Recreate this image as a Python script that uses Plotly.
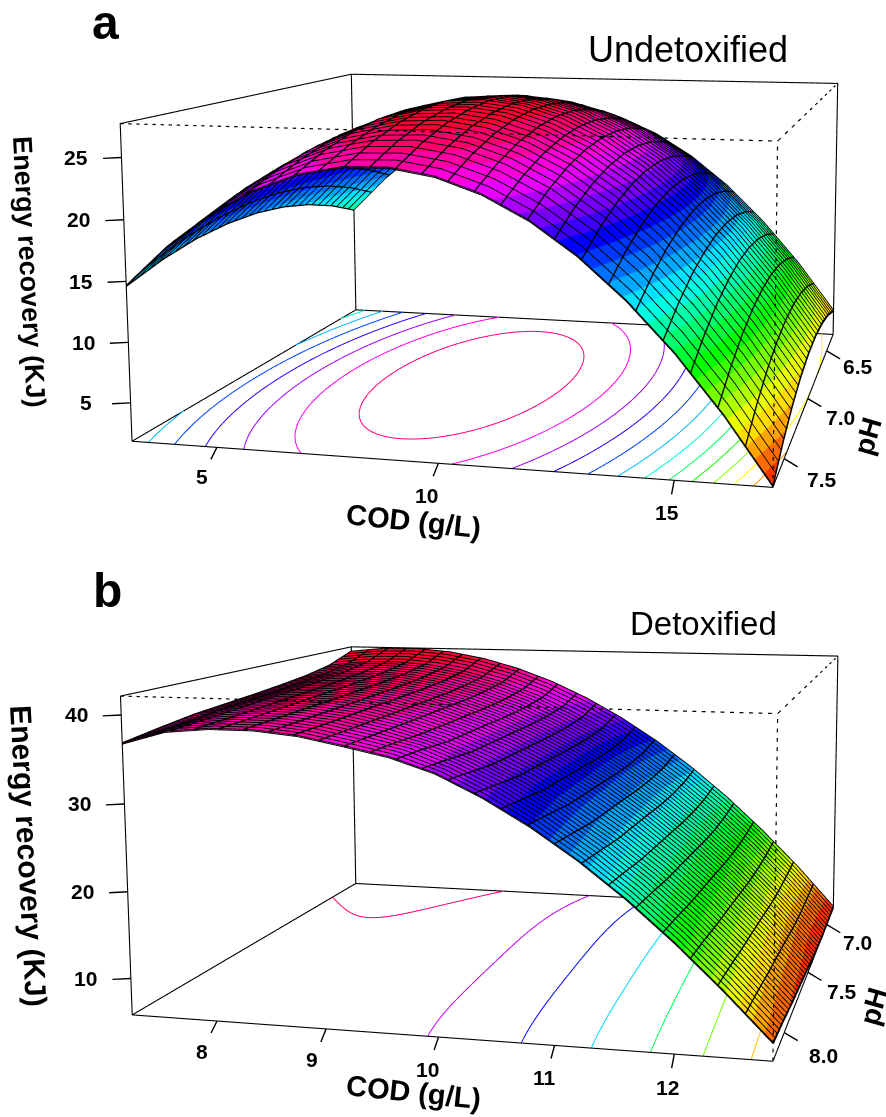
import colorsys
import numpy as np
import plotly.graph_objects as go

# ---------- values ----------
COD_A = [3, 4, 5, 6, 7, 8, 9, 10, 11, 12, 13, 14, 15, 16, 17]
PH_A = [6.3, 6.475, 6.65, 6.825, 7.0, 7.175, 7.35, 7.525, 7.7]
# one row per pH, one column per COD
ENERGY_A = [
    [12.94, 16.56, 19.54, 21.87, 23.53, 24.54, 24.90, 24.61, 23.67, 22.07, 19.82, 16.92, 13.36, 9.16, 4.30],
    [14.38, 17.97, 20.91, 23.20, 24.83, 25.80, 26.13, 25.80, 24.82, 23.19, 20.90, 17.96, 14.37, 10.13, 5.23],
    [15.47, 19.03, 21.93, 24.18, 25.78, 26.71, 27.00, 26.64, 25.62, 23.95, 21.63, 18.65, 15.02, 10.74, 5.81],
    [16.21, 19.72, 22.59, 24.81, 26.36, 27.27, 27.52, 27.11, 26.06, 24.36, 21.99, 18.98, 15.32, 11.00, 6.03],
    [16.60, 20.08, 22.91, 25.09, 26.61, 27.48, 27.69, 27.25, 26.16, 24.42, 22.02, 18.97, 15.27, 10.92, 5.91],
    [16.63, 20.08, 22.87, 25.01, 26.50, 27.33, 27.50, 27.03, 25.90, 24.12, 21.69, 18.60, 14.86, 10.48, 5.43],
    [16.33, 19.73, 22.49, 24.60, 26.04, 26.83, 26.98, 26.46, 25.30, 23.49, 21.01, 17.89, 14.12, 9.70, 4.61],
    [15.66, 19.03, 21.75, 23.82, 25.23, 25.98, 26.09, 25.54, 24.34, 22.49, 19.98, 16.82, 13.01, 8.55, 3.43],
    [14.64, 17.98, 20.66, 22.69, 24.07, 24.78, 24.86, 24.27, 23.03, 21.15, 18.60, 15.40, 11.56, 7.06, 1.90],
]
LEVELS_A = [2, 4, 6, 8, 10, 12, 14, 16, 18, 20, 22, 24, 26]
COD_TICKS_A = [5, 10, 15]
PH_TICKS_A = [6.5, 7.0, 7.5]
Z_TICKS_A = [5, 10, 15, 20, 25]

COD_B = [7.2, 7.6, 8.0, 8.4, 8.8, 9.2, 9.6, 10.0, 10.4, 10.8, 11.2, 11.6, 12.0, 12.4, 12.8]
PH_B = [6.8, 6.975, 7.15, 7.325, 7.5, 7.675, 7.85, 8.025, 8.2]
ENERGY_B = [
    [41.38, 41.91, 41.97, 41.56, 40.67, 39.32, 37.50, 35.20, 32.44, 29.21, 25.50, 21.33, 16.68, 11.57, 5.98],
    [40.05, 40.63, 40.73, 40.37, 39.53, 38.23, 36.45, 34.21, 31.57, 28.46, 24.89, 20.85, 16.33, 11.34, 5.86],
    [39.35, 39.98, 40.14, 39.84, 39.06, 37.82, 36.10, 33.91, 31.30, 28.23, 24.69, 20.67, 16.18, 11.22, 5.78],
    [38.91, 39.59, 39.80, 39.54, 38.81, 37.61, 35.94, 33.80, 31.23, 28.20, 24.69, 20.72, 16.26, 11.35, 5.95],
    [38.54, 39.28, 39.55, 39.35, 38.68, 37.54, 35.93, 33.85, 31.33, 28.34, 24.89, 20.96, 16.57, 11.70, 6.35],
    [38.24, 39.03, 39.34, 39.19, 38.57, 37.47, 35.91, 33.87, 31.40, 28.45, 25.04, 21.15, 16.80, 11.97, 6.66],
    [37.93, 38.77, 39.13, 39.03, 38.45, 37.40, 35.89, 33.90, 31.46, 28.56, 25.18, 21.34, 17.02, 12.23, 6.97],
    [37.40, 38.49, 38.91, 38.87, 38.35, 37.36, 36.20, 34.30, 31.90, 29.00, 25.60, 21.75, 17.40, 12.61, 7.40],
    [36.80, 38.27, 38.74, 38.74, 38.27, 37.33, 36.30, 34.70, 32.30, 29.40, 26.00, 22.10, 17.70, 12.87, 7.70],
]
LEVELS_B = [10, 15, 20, 25, 30, 35, 40]
COD_TICKS_B = [8, 9, 10, 11, 12]
PH_TICKS_B = [7.0, 7.5, 8.0]
Z_TICKS_B = [10, 20, 30, 40]

FONT = "Liberation Sans"
# The figure is larger than the window: plotly's 3D camera has a fixed field of view,
# so the two scenes need a big viewport to get the reference's mild perspective.
FIG_W, FIG_H, TOP_CUT, SCENE_H = 1200, 1970, 540, 1400
PAD = 0.01  # the axes reach slightly past the box so its edges are not clipped


def hue_hex(z, lo, hi):
    deg = 5 + (z - lo) / (hi - lo) * 350
    r, g, b = colorsys.hsv_to_rgb(deg / 360, 1, 1)
    return "#%02x%02x%02x" % (round(r * 255), round(g * 255), round(b * 255))


def band_scale(lo, hi, n):
    out = []
    for i in range(n):
        c = hue_hex(lo + (i + .5) / n * (hi - lo), lo, hi)
        out += [[i / n, c], [(i + 1) / n, c]]
    return out


def smooth_grid(cod, ph, t, k=6):
    """Finer sampling of the table, only used to trace smooth floor contours."""
    cod, ph = np.asarray(cod, float), np.asarray(ph, float)
    fc = np.linspace(cod[0], cod[-1], (len(cod) - 1) * k + 1)
    fp = np.linspace(ph[0], ph[-1], (len(ph) - 1) * k + 1)
    m1 = np.array([np.polyval(np.polyfit(cod - cod.mean(), r, 4), fc - cod.mean()) for r in t])
    m2 = np.array([np.polyval(np.polyfit(ph - ph.mean(), m1[:, j], 4), fp - ph.mean()) for j in range(m1.shape[1])]).T
    return fc, fp, m2


def iso_segments(xs, ys, t, level):
    """Marching squares; xs index columns, ys index rows."""
    px, py = [], []
    def cut(x0, y0, v0, x1, y1, v1):
        f = (level - v0) / (v1 - v0)
        return x0 + f * (x1 - x0), y0 + f * (y1 - y0)
    for i in range(len(ys) - 1):
        for j in range(len(xs) - 1):
            c = [(xs[j], ys[i], t[i, j]), (xs[j + 1], ys[i], t[i, j + 1]),
                 (xs[j + 1], ys[i + 1], t[i + 1, j + 1]), (xs[j], ys[i + 1], t[i + 1, j])]
            hits = []
            for k in range(4):
                a, b = c[k], c[(k + 1) % 4]
                if (a[2] - level) * (b[2] - level) < 0:
                    hits.append(cut(*a, *b))
            for k in range(0, len(hits) - 1, 2):
                px += [float(hits[k][0]), float(hits[k + 1][0]), None]
                py += [float(hits[k][1]), float(hits[k + 1][1]), None]
    return px, py


def panel(fig, name, domain, cam, aspect, cod, ph, table, levels, zlim, cod_ticks, ph_ticks, z_ticks,
          cod_shift, ph_shift, n_cod, n_ph, lift):
    zlo, zhi = zlim
    clo, chi = cod[0], cod[-1]
    plo, phi = ph[0], ph[-1]
    T = np.asarray(table, float)
    fig.add_trace(go.Surface(
        x=ph, y=cod, z=T.T, cmin=zlo, cmax=zhi, colorscale=band_scale(zlo, zhi, 26), showscale=False,
        lighting=dict(ambient=1, diffuse=0, specular=0, roughness=1, fresnel=0),
        hoverinfo="skip", scene=name))

    # mesh
    def add_lines(xs, ys, zs, w):
        for d in (lift, -lift):
            fig.add_trace(go.Scatter3d(x=xs, y=ys, z=[None if v is None else v + d for v in zs], mode="lines",
                                       line=dict(color="black", width=w), hoverinfo="skip",
                                       showlegend=False, scene=name))
    xs, ys, zs = [], [], []
    for c in np.linspace(clo, chi, n_cod + 1):
        for i, p in enumerate(ph):
            xs.append(p); ys.append(c); zs.append(float(np.interp(c, cod, T[i])))
        xs.append(None); ys.append(None); zs.append(None)
    add_lines(xs, ys, zs, 2.7)
    xs, ys, zs = [], [], []
    for p in np.linspace(plo, phi, n_ph + 1):
        for j, c in enumerate(cod):
            xs.append(p); ys.append(c); zs.append(float(np.interp(p, ph, T[:, j])))
        xs.append(None); ys.append(None); zs.append(None)
    add_lines(xs, ys, zs, 1.9)

    # floor contours
    fc, fp, fine = smooth_grid(cod, ph, T)
    for lv in levels:
        py, px = iso_segments(fc, fp, fine, lv)
        fig.add_trace(go.Scatter3d(x=px, y=py, z=[None if v is None else zlo for v in px], mode="lines",
                                   line=dict(color=hue_hex(lv, zlo, zhi), width=2), hoverinfo="skip",
                                   showlegend=False, scene=name))

    # box
    def box(pts, w=2.2):
        fig.add_trace(go.Scatter3d(x=[q[0] for q in pts], y=[q[1] for q in pts], z=[q[2] for q in pts],
                                   mode="lines", line=dict(color="black", width=w),
                                   hoverinfo="skip", showlegend=False, scene=name))
    def dotted(p0, p1, n):
        p0, p1 = np.array(p0, float), np.array(p1, float)
        pts = []
        for i in range(n):
            pts += [tuple(p0 + (p1 - p0) * i / n), tuple(p0 + (p1 - p0) * (i + .42) / n), (None, None, None)]
        box(pts, 2.4)
    box([(phi, clo, zlo), (phi, chi, zlo), (plo, chi, zlo), (plo, clo, zlo), (phi, clo, zlo),
         (phi, clo, zhi), (plo, clo, zhi), (plo, chi, zhi), (plo, chi, zlo)])
    box([(plo, clo, zlo), (plo, clo, zhi)])
    dotted((phi, clo, zhi), (phi, chi, zhi), 75)
    dotted((phi, chi, zhi), (plo, chi, zhi), 11)
    dotted((phi, chi, zlo), (phi, chi, zhi), 38)

    # ticks and tick labels
    anns = []
    lab = dict(family=FONT, size=21, color="black")
    def tick(x, y, z, ax, ay, text, xs_, ys_):
        anns.append(dict(x=x, y=y, z=z, text=" ", showarrow=True, arrowhead=0, arrowwidth=1.4,
                         arrowcolor="black", ax=ax, ay=ay, font=dict(size=1)))
        anns.append(dict(x=x, y=y, z=z, text="<b>%s</b>" % text, showarrow=False, xshift=xs_, yshift=-ys_,
                         font=lab))
    for v, (tx, ty, sx, sy) in zip(cod_ticks, cod_shift):
        tick(phi, v, zlo, tx, ty, str(v), sx, sy)
    for v, (sx, sy) in zip(ph_ticks, ph_shift):
        tick(v, chi, zlo, 15, 9, "%.1f" % v, sx, sy)
    for v in z_ticks:
        tick(phi, clo, v, -20, 1, str(v), -45, 0)

    grow = 1 + 2 * PAD
    pad = lambda a, b: [a - PAD * (b - a), b + PAD * (b - a)]
    fig.update_layout(**{name: dict(
        domain=dict(x=[0, 1], y=domain),
        camera=dict(eye=dict(x=cam[0], y=cam[1], z=cam[2]), center=dict(x=cam[3], y=cam[4], z=cam[5]),
                    up=dict(x=cam[6], y=cam[7], z=1), projection=dict(type="perspective")),
        aspectmode="manual", aspectratio=dict(x=aspect[0] * grow, y=grow, z=aspect[1] * grow),
        xaxis=dict(visible=False, range=pad(plo, phi)),
        yaxis=dict(visible=False, range=pad(clo, chi)),
        zaxis=dict(visible=False, range=pad(zlo, zhi)),
        annotations=anns)})


fig = go.Figure()
frac = SCENE_H / FIG_H
panel(fig, "scene", [1 - frac, 1], (2.8056, .7783, .5282, -.3195, .0644, .1069, .0088, -.0032), (.9616, .4973),
      COD_A, PH_A, ENERGY_A, LEVELS_A, (1.8, 27.7), COD_TICKS_A, PH_TICKS_A, Z_TICKS_A,
      [(-7, 14, -15, 29), (-6, 15, -12, 32), (-3, 16, -7, 32)], [(31, 16), (33, 19), (38, 21)], 25, 30, .05)
panel(fig, "scene2", [0, frac], (2.8043, .7795, .5291, -.3244, .0630, .1122, .0106, -.0038), (.9589, .4992),
      COD_B, PH_B, ENERGY_B, LEVELS_B, (5.75, 42.1), COD_TICKS_B, PH_TICKS_B, Z_TICKS_B,
      [(-7, 14, -15, 30), (-6, 15, -14, 31), (-5, 15, -11, 32), (-4, 15, -10, 32), (-3, 16, -7, 33)],
      [(31, 18), (34, 19), (39, 23)], 25, 40, .07)


def note(x, y, text, size, angle=0):
    return dict(x=x / FIG_W, y=1 - (y + TOP_CUT) / FIG_H, xref="paper", yref="paper", text=text, showarrow=False,
                textangle=angle, xanchor="center", yanchor="middle",
                font=dict(family=FONT, size=size, color="black"))


fig.update_layout(
    width=FIG_W, height=FIG_H, margin=dict(l=0, r=0, t=0, b=0), paper_bgcolor="white", showlegend=False,
    annotations=[
        note(105, 22, "<b>a</b>", 48), note(107, 590, "<b>b</b>", 48),
        note(688, 49, "Undetoxified", 36), note(703, 623, "Detoxified", 33),
        note(413, 521, "<b>COD (g/L)</b>", 29, 6), note(413, 1092, "<b>COD (g/L)</b>", 29, 6),
        note(29, 272, "<b>Energy recovery (KJ)</b>", 27, 87), note(29, 856, "<b>Energy recovery (KJ)</b>", 30, 87),
        note(868, 437, "<b>pH</b>", 28, -74), note(873, 1007, "<b>pH</b>", 28, -74),
    ])

fig.write_html("out.html", config=dict(displayModeBar=False),
               post_script="document.body.style.margin='-%dpx 0 0 0';"
                           "document.documentElement.style.overflow='hidden';"
                           "document.body.style.overflow='hidden';" % TOP_CUT)
